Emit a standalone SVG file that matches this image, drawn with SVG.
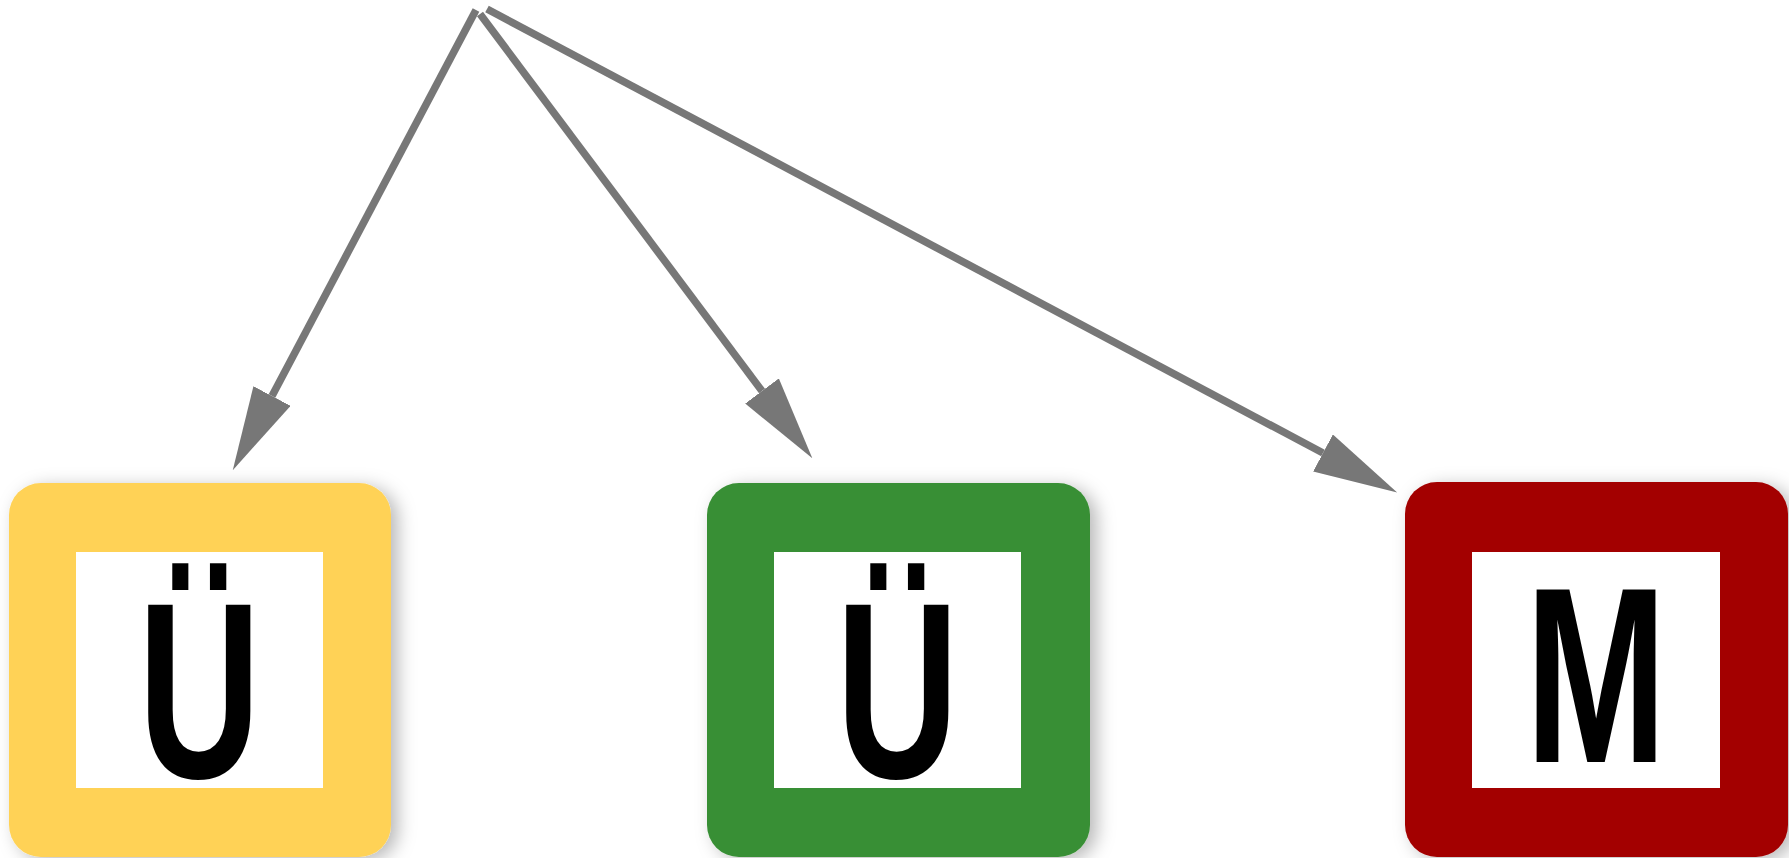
<svg xmlns="http://www.w3.org/2000/svg" width="1789" height="858" viewBox="0 0 1789 858">
<style>
.edge{fill:none;stroke:#777777;stroke-width:7.5}
.inner{fill:#ffffff}
.lbl{font-family:"Liberation Sans",Arial,sans-serif;font-size:250px;font-weight:bold;fill:#000000;text-anchor:middle}
</style>
<defs>
<filter id="sh" x="-10%" y="-10%" width="130%" height="130%">
<feDropShadow dx="7" dy="4" stdDeviation="9" flood-color="#000" flood-opacity="0.28"/>
</filter>
<marker id="ah" viewBox="0 0 84 42" markerWidth="84" markerHeight="42" refX="0" refY="21" orient="auto" markerUnits="userSpaceOnUse">
<path d="M0,0 L84,21 L0,42 Z" fill="#777777"/>
</marker>
</defs>
<rect width="1789" height="858" fill="#ffffff"/>
<g id="connectors">
<line class="edge" x1="476" y1="10" x2="272" y2="396" marker-end="url(#ah)"/>
<line class="edge" x1="480" y1="14" x2="762" y2="391" marker-end="url(#ah)"/>
<line class="edge" x1="487" y1="9" x2="1323" y2="453" marker-end="url(#ah)"/>
</g>
<g id="node-yellow">
<rect x="9" y="483" width="382" height="374" rx="32" fill="#ffd257" filter="url(#sh)"/>
<rect class="inner" x="76" y="552" width="247" height="236"/>
<text class="lbl" transform="translate(199.5,778) scale(0.68,1)">Ü</text>
</g>
<g id="node-green">
<rect x="707" y="483" width="383" height="374" rx="32" fill="#388f34" filter="url(#sh)"/>
<rect class="inner" x="774" y="552" width="247" height="236"/>
<text class="lbl" transform="translate(897.5,778) scale(0.68,1)">Ü</text>
</g>
<g id="node-red">
<rect x="1405" y="482" width="383" height="375" rx="32" fill="#a30303" filter="url(#sh)"/>
<rect class="inner" x="1472" y="552" width="248" height="236"/>
<text class="lbl" transform="translate(1596,762) scale(0.68,1)">M</text>
</g>
</svg>
